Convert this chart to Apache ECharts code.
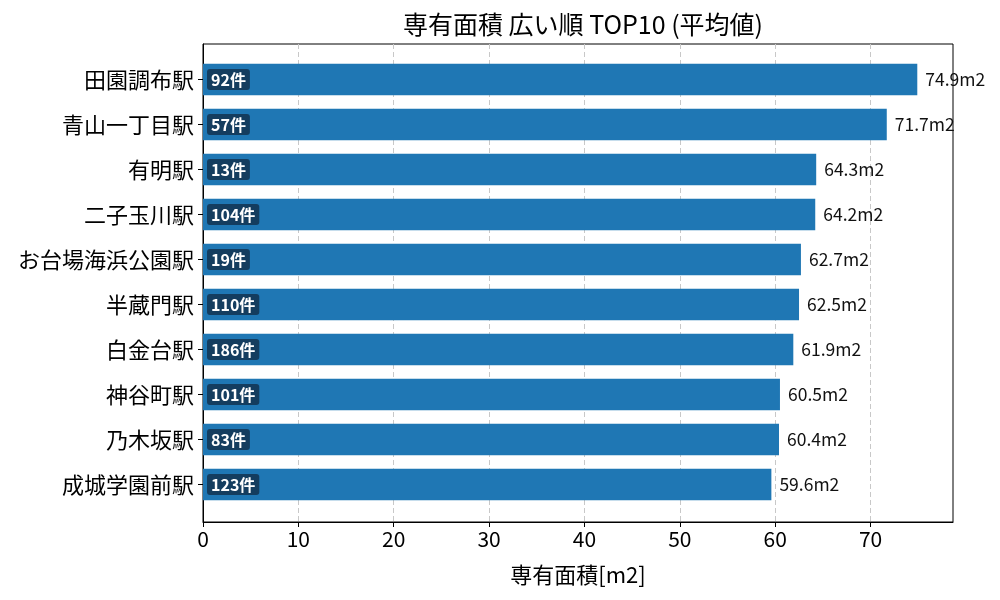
<!DOCTYPE html>
<html>
<head>
<meta charset="utf-8">
<script src="https://cdn.jsdelivr.net/npm/echarts@6/dist/echarts.min.js"></script>
<style>
  html, body { margin: 0; padding: 0; background: #fff; }
  #chart { width: 1000px; height: 600px; }
</style>
</head>
<body>
<div id="chart"></div>
<script>
    // top 10 stations by average floor area
    var stations = ['田園調布駅', '青山一丁目駅', '有明駅', '二子玉川駅', 'お台場海浜公園駅',
                    '半蔵門駅', '白金台駅', '神谷町駅', '乃木坂駅', '成城学園前駅'];
    var areas = [74.9, 71.7, 64.3, 64.2, 62.7, 62.5, 61.9, 60.5, 60.4, 59.6];
    var counts = [92, 57, 13, 104, 19, 110, 186, 101, 83, 123];
    var xTicks = [0, 10, 20, 30, 40, 50, 60, 70];
    var xMax = 78.645;

    var font = "'Noto Sans CJK JP', 'Noto Sans', sans-serif";

    var myChart = echarts.init(document.getElementById('chart'));
    var option = {
        animation: false,
        backgroundColor: '#fff',
        title: {
            text: '専有面積 広い順 TOP10 (平均値)',
            left: 578,
            top: 7,
            textAlign: 'center',
            textStyle: {
                fontFamily: font,
                fontSize: 25,
                fontWeight: 'normal',
                color: '#000'
            }
        },
        grid: [{
            // bars
            left: 203,
            right: 47,
            top: 57,
            height: 450
        }, {
            // frame + x axis
            left: 203,
            right: 47,
            top: 44,
            bottom: 78,
            show: true,
            borderColor: '#000',
            borderWidth: 1,
            backgroundColor: 'transparent'
        }],
        xAxis: [{
            gridIndex: 0,
            type: 'value',
            min: 0,
            max: xMax,
            show: false
        }, {
            gridIndex: 1,
            type: 'value',
            min: 0,
            max: xMax,
            name: '専有面積[m2]',
            nameLocation: 'middle',
            nameGap: 42,
            nameTextStyle: {
                fontFamily: font,
                fontSize: 22,
                color: '#000'
            },
            axisLine: {
                show: true,
                lineStyle: { color: '#000', width: 1 }
            },
            axisTick: {
                show: true,
                length: 5,
                customValues: xTicks,
                lineStyle: { color: '#000' }
            },
            axisLabel: {
                customValues: xTicks,
                fontFamily: font,
                fontSize: 21,
                color: '#000',
                margin: 7
            },
            splitLine: {
                show: true,
                lineStyle: { color: '#c8c8c8', type: [5, 3], width: 1 }
            }
        }],
        yAxis: [{
            gridIndex: 0,
            type: 'category',
            data: stations,
            inverse: true,
            axisLine: { show: false },
            axisTick: {
                show: true,
                alignWithLabel: true,
                length: 5,
                lineStyle: { color: '#000' }
            },
            axisLabel: {
                fontFamily: font,
                fontSize: 22,
                color: '#000',
                margin: 9
            }
        }, {
            gridIndex: 1,
            type: 'value',
            axisLine: {
                show: true,
                lineStyle: { color: '#000', width: 1 }
            },
            axisTick: { show: false },
            axisLabel: { show: false },
            splitLine: { show: false }
        }],
        series: [{
            type: 'bar',
            xAxisIndex: 0,
            yAxisIndex: 0,
            data: areas,
            barWidth: 31.5,
            z: 3,
            itemStyle: { color: '#1f77b4' },
            label: {
                show: true,
                position: 'right',
                distance: 8,
                fontFamily: font,
                fontSize: 17.5,
                color: '#111',
                formatter: function (p) {
                    return p.value.toFixed(1) + 'm2';
                }
            }
        }, {
            type: 'bar',
            xAxisIndex: 0,
            yAxisIndex: 0,
            data: areas,
            barWidth: 31.5,
            barGap: '-100%',
            z: 4,
            itemStyle: { color: 'rgba(0,0,0,0)' },
            label: {
                show: true,
                position: 'insideLeft',
                distance: 4,
                fontFamily: font,
                fontSize: 16,
                fontWeight: 'bold',
                color: '#fff',
                backgroundColor: '#143d5f',
                borderRadius: 3,
                padding: [3, 4, 2, 4],
                formatter: function (p) {
                    return counts[p.dataIndex] + '件';
                }
            }
        }]
    };
    myChart.setOption(option);
</script>
</body>
</html>
